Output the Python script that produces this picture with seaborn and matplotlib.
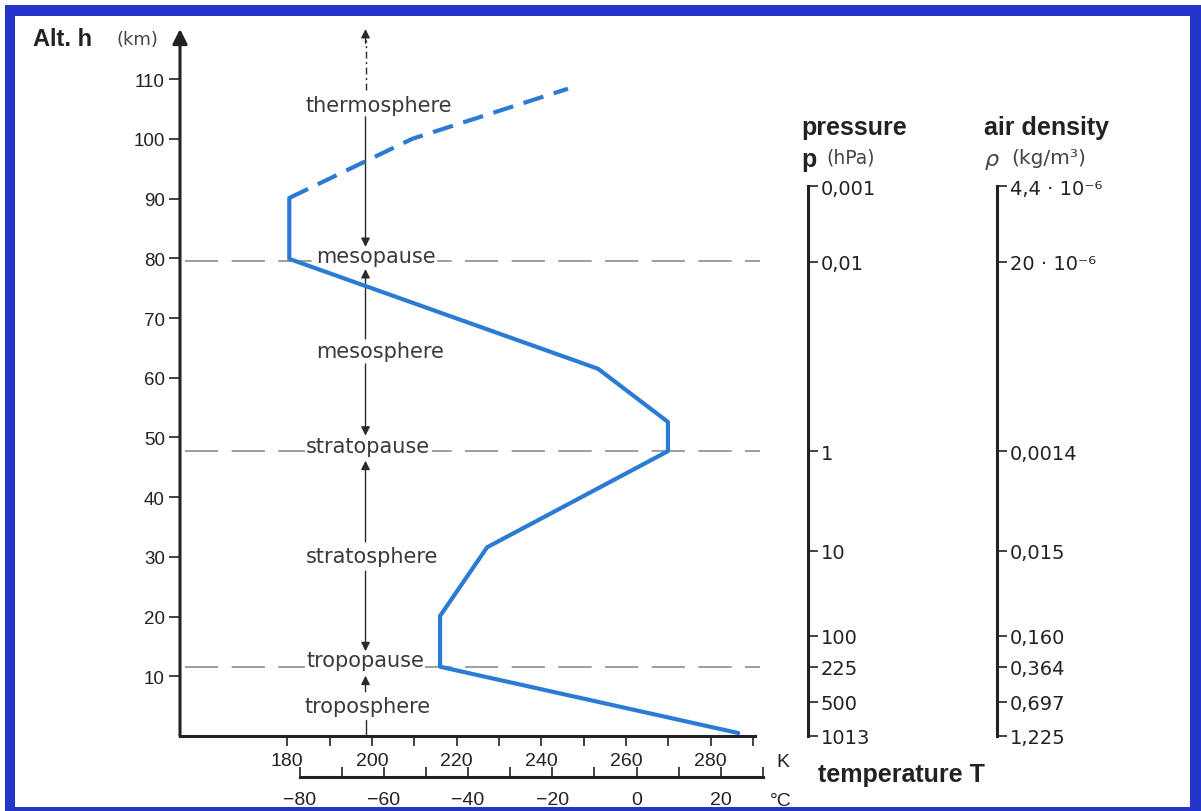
import matplotlib
matplotlib.use("Agg")
import matplotlib.pyplot as plt
import seaborn as sns
import pandas as pd
from matplotlib.patches import Rectangle

# ---------------- data ----------------
profile_T = [286.5, 216.1, 216.1, 227.2, 269.9, 269.9, 253.4, 180.5, 180.5]
profile_h = [0.5, 11.6, 20.1, 31.6, 47.7, 52.6, 61.5, 79.9, 90.1]
thermo_T = [180.5, 209.5, 246.3]
thermo_h = [90.1, 100.0, 108.4]

layer_names = ["thermosphere", "mesopause", "mesosphere", "stratopause",
               "stratosphere", "tropopause", "troposphere"]
layer_T = [201.7, 201.0, 202.0, 199.1, 200.0, 198.4, 199.1]
layer_h = [105.6, 80.4, 64.5, 48.6, 30.2, 12.7, 5.0]
pause_h = [79.6, 47.7, 11.5]

alt_ticks = [10, 20, 30, 40, 50, 60, 70, 80, 90, 100, 110]
K_ticks = [180, 200, 220, 240, 260, 280]
K_minor = [190, 210, 230, 250, 270, 290]
C_ticks = [-80, -60, -40, -20, 0, 20]
C_labels = ["\u221280", "\u221260", "\u221240", "\u221220", "0", "20"]
C_minor = [-70, -50, -30, -10, 10, 30]

scale_h = [92.1, 79.4, 47.7, 31.0, 16.8, 11.6, 5.7, 0.0]
pressure_labels = ["0,001", "0,01", "1", "10", "100", "225", "500", "1013"]
density_labels = ["4,4 \u00b7 10\u207b\u2076", "20 \u00b7 10\u207b\u2076", "0,0014", "0,015",
                  "0,160", "0,364", "0,697", "1,225"]

# arrows between layer labels: (start altitude, tip altitude)
arrow_from = [103.7, 66.5, 62.3, 32.5, 27.6, 7.4]
arrow_to = [81.9, 78.2, 50.3, 46.1, 14.2, 10.1]

# ---------------- style ----------------
sns.set_theme(style="white")
plt.rcParams["font.family"] = ["Liberation Sans", "DejaVu Sans"]

W, H = 1201, 812
fig = plt.figure(figsize=(W / 100, H / 100), dpi=100, facecolor="white")


def rect(l, t, r, b):
    return [l / W, 1 - b / H, (r - l) / W, (b - t) / H]


def ftext(x, y, s, **kw):
    fig.text(x / W, 1 - y / H, s, **kw)


BLUE = "#2b7bd4"
INK = "#222222"
GREY_TXT = "#3a3a3a"

xmin, xmax = 154.7, 294.0
ymax = 118.4

ax = fig.add_axes(rect(180, 30, 770, 737))
ax.set_facecolor("none")
ax.set_xlim(xmin, xmax)
ax.set_ylim(0, ymax)

for s in ["top", "right", "left"]:
    ax.spines[s].set_visible(False)
ax.spines["bottom"].set_bounds(xmin, 290.5)
ax.spines["bottom"].set_linewidth(2.2)
ax.spines["bottom"].set_color(INK)

# y axis as arrow
ax.annotate("", xy=(xmin, ymax), xytext=(xmin, 0), xycoords="data",
            arrowprops=dict(arrowstyle="-|>", lw=2.2, color=INK,
                            mutation_scale=22, shrinkA=0, shrinkB=0),
            annotation_clip=False)

ax.set_yticks(alt_ticks)
ax.set_yticklabels([str(v) for v in alt_ticks])
ax.tick_params(axis="y", left=True, direction="out", length=8, width=1.2,
               color=INK, labelsize=13.5, labelcolor=INK, pad=3)
ax.set_xticks(K_ticks)
ax.set_xticklabels([str(v) for v in K_ticks])
ax.set_xticks(K_minor, minor=True)
ax.tick_params(axis="x", which="both", bottom=True, direction="out", length=7.5,
               width=1.2, color=INK, labelsize=14, labelcolor=INK, pad=4)
ax.set_xlabel("")
ax.set_ylabel("")
ax.grid(False)

# pause lines
for h in pause_h:
    ax.plot([155.9, 291.7], [h, h], color="#8e8e8e", lw=1.2,
            dashes=(20, 8), zorder=1, clip_on=False)

# layer labels
for name, t, h in zip(layer_names, layer_T, layer_h):
    ax.text(t, h, name, ha="center", va="center", fontsize=15,
            family="DejaVu Sans", color=GREY_TXT, zorder=2,
            bbox=dict(facecolor="white", edgecolor="none", pad=1.0))

# arrows
AX_T = 198.5
for a, b in zip(arrow_from, arrow_to):
    ax.annotate("", xy=(AX_T, b), xytext=(AX_T, a),
                arrowprops=dict(arrowstyle="-|>", lw=1.0, color="#2a2a2a",
                                mutation_scale=13, shrinkA=0, shrinkB=0),
                zorder=3)
ax.plot([AX_T, AX_T], [108.2, 116.5], color="#2a2a2a", lw=1.0,
        dashes=(5, 2.5, 1.5, 2.5), zorder=3, clip_on=False)
ax.annotate("", xy=(AX_T, ymax), xytext=(AX_T, 116.0),
            arrowprops=dict(arrowstyle="-|>", lw=1.0, color="#2a2a2a",
                            mutation_scale=13, shrinkA=0, shrinkB=0),
            zorder=3, annotation_clip=False)
ax.plot([AX_T, AX_T], [2.6, 0.4], color="#2a2a2a", lw=1.0, zorder=3)

# temperature profile
prof = pd.DataFrame({"T": profile_T, "h": profile_h})
therm = pd.DataFrame({"T": thermo_T, "h": thermo_h})
sns.lineplot(data=prof, x="T", y="h", sort=False, estimator=None, color=BLUE,
             lw=3.0, ax=ax, zorder=4)
sns.lineplot(data=therm, x="T", y="h", sort=False, estimator=None, color=BLUE,
             lw=3.0, ax=ax, zorder=4, linestyle=(0, (5, 2.6)))
ax.set_xlabel("")
ax.set_ylabel("")

# Celsius axis
axc = fig.add_axes(rect(299.5, 772, 763, 778))
axc.set_facecolor("none")
axc.set_xlim(-80, 30)
axc.set_yticks([])
for s in ["top", "right", "left"]:
    axc.spines[s].set_visible(False)
axc.spines["bottom"].set_linewidth(2.2)
axc.spines["bottom"].set_color(INK)
axc.set_xticks(C_ticks)
axc.set_xticklabels(C_labels)
axc.set_xticks(C_minor, minor=True)
axc.tick_params(axis="x", which="both", bottom=True, direction="in", length=7,
                width=1.2, color=INK, labelsize=14, labelcolor=INK, pad=10)


# side scales
def side_scale(x_px, labels):
    a = fig.add_axes(rect(x_px - 20, 30, x_px, 737))
    a.set_facecolor("none")
    a.set_ylim(0, ymax)
    a.set_xticks([])
    for s in ["top", "bottom", "left"]:
        a.spines[s].set_visible(False)
    a.spines["right"].set_bounds(0, scale_h[0])
    a.spines["right"].set_linewidth(2.2)
    a.spines["right"].set_color(INK)
    a.yaxis.tick_right()
    a.set_yticks(scale_h)
    a.set_yticklabels(labels)
    a.tick_params(axis="y", right=True, direction="out", length=7, width=1.2,
                  color=INK, labelsize=14, labelcolor=INK, pad=2)
    for lab in a.get_yticklabels():
        lab.set_fontfamily("DejaVu Sans")
    a.grid(False)
    return a


side_scale(808, pressure_labels)
side_scale(997, density_labels)

# texts
ftext(33, 39, "Alt. h", fontsize=17, fontweight="bold", color=INK, va="center")
ftext(116, 40, "(km)", fontsize=13, color="#444444", va="center", family="DejaVu Sans")
ftext(776, 763, "K", fontsize=14, color=INK, va="center")
ftext(770, 802, "\u00b0C", fontsize=14, color=INK, va="center")
ftext(818, 775, "temperature T", fontsize=18, fontweight="bold", color=INK, va="center")
ftext(801, 128, "pressure", fontsize=18, fontweight="bold", color=INK, va="center")
ftext(801, 160, "p", fontsize=18, fontweight="bold", color=INK, va="center")
ftext(826, 158, "(hPa)", fontsize=13.5, color="#444444", va="center", family="DejaVu Sans")
ftext(984, 128, "air density", fontsize=18, fontweight="bold", color=INK, va="center")
ftext(985, 160, "\u03c1", fontsize=16, style="italic", color="#444444", va="center",
      family="DejaVu Sans")
ftext(1011, 158, "(kg/m\u00b3)", fontsize=14.5, color="#444444", va="center",
      family="DejaVu Sans")

# blue frame
FRAME = "#2336c9"
for (l, t, r, b) in [(5, 6, 15, 812), (5, 6, 1201, 17), (1190, 6, 1201, 812), (5, 808, 1201, 812)]:
    fig.patches.append(Rectangle((l / W, 1 - b / H), (r - l) / W, (b - t) / H,
                                 transform=fig.transFigure, facecolor=FRAME,
                                 edgecolor="none", zorder=100))

fig.savefig("out.png", dpi=100, facecolor="white")
